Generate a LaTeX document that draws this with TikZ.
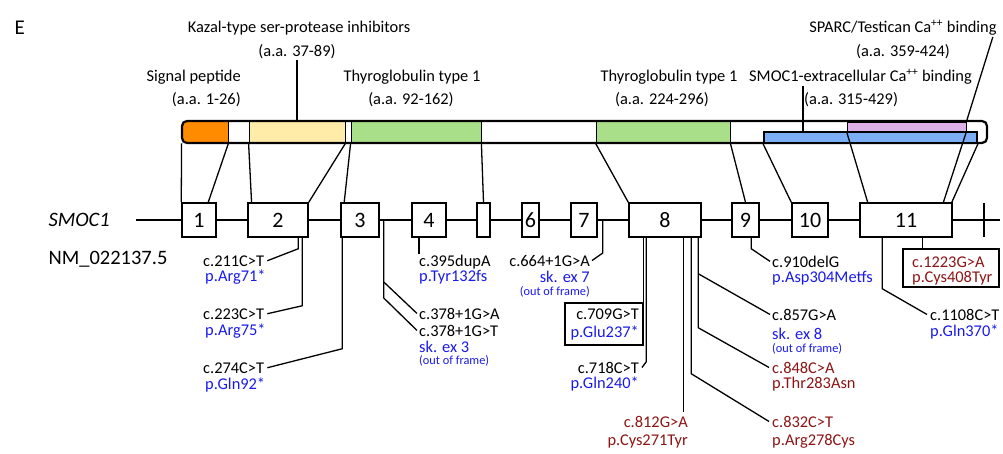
\documentclass[tikz,border=0pt]{standalone}
\usepackage{fontspec}
\setmainfont{Carlito}
\usetikzlibrary{calc}
\definecolor{mutblue}{RGB}{25,25,235}
\definecolor{mutred}{RGB}{140,20,20}
\definecolor{sigorange}{RGB}{255,140,0}
\definecolor{kazalyel}{RGB}{255,236,168}
\definecolor{thygreen}{RGB}{170,223,138}
\definecolor{sparcpink}{RGB}{221,177,232}
\definecolor{cablue}{RGB}{123,174,245}
\begin{document}
\begin{tikzpicture}[x=1pt,y=-1pt,
  exon/.style={draw, line width=1.5pt, fill=white, minimum height=34pt, inner sep=0pt,
    font=\fontsize{22}{22}\selectfont},
  seg/.style={draw, line width=0.8pt, minimum height=22pt, inner sep=0pt},
  conn/.style={line width=1.3pt},
  toplbl/.style={inner sep=1pt, font=\fontsize{16.4}{18}\selectfont},
  lbl/.style={inner sep=0pt, font=\fontsize{16.4}{18}\selectfont},
  blbl/.style={lbl, text=mutblue},
  rlbl/.style={lbl, text=mutred},
  oof/.style={inner sep=0pt, font=\fontsize{12.3}{13}\selectfont, text=mutblue},
  mbox/.style={draw, line width=1.3pt, inner sep=0pt}
]
\useasboundingbox (0,0) rectangle (1003,454);

% panel letter and gene labels
\node[anchor=base west, font=\fontsize{21}{21}\selectfont] (panel) at (11,35) {E};
\node[anchor=base west, font=\fontsize{20.5}{22}\selectfont\itshape] (gene) at (45,227) {SMOC1};
\node[anchor=base west, font=\fontsize{20.5}{22}\selectfont] (tx) at (45,264) {NM\_022137.5};

% domain labels
\node[toplbl, anchor=base] (kazt) at (299,33) {Kazal-type ser-protease inhibitors};
\node[toplbl, anchor=base] (kaza) at (297,57) {(a.a. 37-89)};
\node[toplbl, anchor=base east] (sigt) at (242,82) {Signal peptide};
\node[toplbl, anchor=base east] (siga) at (242,105) {(a.a. 1-26)};
\node[toplbl, anchor=base] (thy1t) at (412,82) {Thyroglobulin type 1};
\node[toplbl, anchor=base] (thy1a) at (411,105) {(a.a. 92-162)};
\node[toplbl, anchor=base] (thy2t) at (669,82) {Thyroglobulin type 1};
\node[toplbl, anchor=base] (thy2a) at (662,105) {(a.a. 224-296)};
\node[toplbl, anchor=base west] (smxt) at (748,82) {SMOC1-extracellular Ca\textsuperscript{++} binding};
\node[toplbl, anchor=base west] (smxa) at (803,105) {(a.a. 315-429)};
\node[toplbl, anchor=base] (sparct) at (903,33) {SPARC/Testican Ca\textsuperscript{++} binding};
\node[toplbl, anchor=base] (sparca) at (903,57) {(a.a. 359-424)};

% protein bar with domains
\begin{scope}
  \clip[rounded corners=5pt] (182,121) rectangle (987,143);
  \node[seg, fill=sigorange, minimum width=46pt] (sig) at (205,132) {};
  \node[seg, fill=kazalyel, minimum width=96pt] (kaz) at (297,132) {};
  \node[seg, fill=thygreen, minimum width=130pt] (thy1) at (416,132) {};
  \node[seg, fill=thygreen, minimum width=134pt] (thy2) at (663,132) {};
\end{scope}
\node[draw, line width=2.2pt, rounded corners=5pt, minimum width=805pt, minimum height=22pt,
  inner sep=0pt] (prot) at (584.5,132) {};
\node[draw, line width=0.9pt, fill=sparcpink, minimum width=119pt, minimum height=9pt,
  inner sep=0pt] (pink) at (906.5,126.5) {};
\node[draw, line width=1.8pt, fill=cablue, minimum width=213pt, minimum height=11pt,
  inner sep=0pt] (cabl) at (870.5,137.5) {};

% label leaders to the protein bar
\draw[conn] (kaza.south) -- (kaz.north);
\draw[conn] (smxa.west |- smxt.south) -- (smxa.west |- cabl.north);
\draw[conn] ([xshift=-5pt]sparct.south east) -- (pink.north east);

% gene backbone
\coordinate (bbL) at (136,220);
\coordinate (bbR) at (1000,220);
\draw[line width=1.8pt] (bbL) -- (bbR);
\draw[line width=2.5pt] (984,203) coordinate (endT) -- (984,237) coordinate (endB);

% exons
\node[exon, minimum width=34pt] (e1) at (199,220) {1};
\node[exon, minimum width=60pt] (e2) at (278,220) {2};
\node[exon, minimum width=38pt] (e3) at (360,220) {3};
\node[exon, minimum width=34pt] (e4) at (429,220) {4};
\node[exon, minimum width=13pt] (e5) at (483.5,220) {};
\node[exon, minimum width=17pt] (e6) at (530.5,220) {6};
\node[exon, minimum width=26pt] (e7) at (584,220) {7};
\node[exon, minimum width=72pt] (e8) at (665,220) {8};
\node[exon, minimum width=27pt] (e9) at (745.5,220) {9};
\node[exon, minimum width=36pt] (e10) at (810,220) {10};
\node[exon, minimum width=92pt] (e11) at (906,220) {11};

% domain boundaries mapped onto exons
\draw[conn] (sig.south west) -- (e1.north west);
\draw[conn] (sig.south east) -- ($(e1.north west)!0.76!(e1.north east)$);
\draw[conn] (kaz.south west) -- ($(e2.north west)!0.07!(e2.north east)$);
\draw[conn] (kaz.south east) -- (e2.north east);
\draw[conn] (thy1.south west) -- ($(e3.north west)!0.1!(e3.north east)$);
\draw[conn] (thy1.south east) -- (e5.north);
\draw[conn] (thy2.south west) -- (e8.north west);
\draw[conn] (thy2.south east) -- (e9.north);
\draw[conn] (cabl.south west) -- (e10.north west);
\draw[conn] (pink.south west) -- ($(e11.north west)!0.09!(e11.north east)$);
\draw[conn] (pink.south east) -- ($(e11.north west)!0.9!(e11.north east)$);
\draw[conn] (cabl.south east) -- ($(e11.north west)!0.99!(e11.north east)$);

% variant labels
\node[lbl, anchor=base west] (m211) at (203,266) {c.211C>T};
\node[blbl, anchor=base west] (p211) at (205,281) {p.Arg71*};
\node[lbl, anchor=base west] (m223) at (203,319) {c.223C>T};
\node[blbl, anchor=base west] (p223) at (205,335) {p.Arg75*};
\node[lbl, anchor=base west] (m274) at (203,373) {c.274C>T};
\node[blbl, anchor=base west] (p274) at (205,389) {p.Gln92*};

\node[lbl, anchor=base west] (m395) at (419,266) {c.395dupA};
\node[blbl, anchor=base west] (p395) at (419,281) {p.Tyr132fs};

\node[lbl, anchor=base west] (m378a) at (419,319) {c.378+1G>A};
\node[lbl, anchor=base west] (m378t) at (419,336) {c.378+1G>T};
\node[blbl, anchor=base west] (s378) at (419,352) {sk. ex 3};
\node[oof, anchor=base west] (o378) at (419,364) {(out of frame)};

\node[lbl, anchor=base east] (m664) at (590,266) {c.664+1G>A};
\node[blbl, anchor=base east] (s664) at (590,282) {sk. ex 7};
\node[oof, anchor=base east] (o664) at (590,295) {(out of frame)};

\node[mbox, minimum width=78pt, minimum height=42pt] (b709) at (604,324) {};
\node[lbl, anchor=base east] (m709) at (639,319) {c.709G>T};
\node[blbl, anchor=base east] (p709) at (639,337) {p.Glu237*};

\node[lbl, anchor=base east] (m718) at (639,373) {c.718C>T};
\node[blbl, anchor=base east] (p718) at (639,388) {p.Gln240*};

\node[rlbl, anchor=base east] (m812) at (688,427) {c.812G>A};
\node[rlbl, anchor=base east] (p812) at (688,445) {p.Cys271Tyr};
\node[rlbl, anchor=base west] (m832) at (772,427) {c.832C>T};
\node[rlbl, anchor=base west] (p832) at (772,445) {p.Arg278Cys};
\node[rlbl, anchor=base west] (m848) at (772,373) {c.848C>A};
\node[rlbl, anchor=base west] (p848) at (772,388) {p.Thr283Asn};
\node[lbl, anchor=base west] (m857) at (772,320) {c.857G>A};
\node[blbl, anchor=base west] (s857) at (772,339) {sk. ex 8};
\node[oof, anchor=base west] (o857) at (772,352) {(out of frame)};

\node[lbl, anchor=base west] (m910) at (772,267) {c.910delG};
\node[blbl, anchor=base west] (p910) at (772,282) {p.Asp304Metfs};

\node[mbox, minimum width=96pt, minimum height=38pt] (b1223) at (951,268) {};
\node[rlbl, anchor=base west] (m1223) at (912,267) {c.1223G>A};
\node[rlbl, anchor=base west] (p1223) at (912,282) {p.Cys408Tyr};

\node[lbl, anchor=base west] (m1108) at (930,320) {c.1108C>T};
\node[blbl, anchor=base west] (p1108) at (930,336) {p.Gln370*};

% variant leaders
\draw[conn] (e2.south west) ++(51,0) -- ++(0,11) -- ([xshift=3pt]m211.east);
\draw[conn] (e2.south west) ++(55,0) -- ++(0,68) -- ([xshift=3pt]m223.east);
\draw[conn] (e3.south west) ++(2,0) -- ++(0,111) -- ([xshift=3pt]m274.east);
\draw[conn] (e3.east) ++(4,0) -- ++(0,78) -- ([xshift=-2pt]m378t.west);
\draw[conn] (e3.east) ++(4,62) -- ([xshift=-2pt]m378a.west);
\draw[conn] (m395.north west) -- (m395.north west |- e4.south);
\draw[conn] (e7.east) ++(5,0) -- ++(0,33) -- ([xshift=2pt]m664.east);
\draw[conn] (b709.north east) -- (b709.north east |- e8.south);
\draw[conn] (e8.south west) ++(18,0) -- ++(0,124) -- ([xshift=3pt]m718.east);
\draw[conn] (e8.south west) ++(55,0) coordinate (t812) -- ([yshift=4pt]t812 |- m812.north);
\draw[conn] (e8.south west) ++(63,0) -- ++(0,136) -- ([xshift=-3pt]m832.west);
\draw[conn] (e8.south west) ++(70,0) -- ++(0,90) -- ([xshift=-3pt]m848.west);
\draw[conn] (e8.south west) ++(70,36) -- ([xshift=-2pt]m857.west);
\draw[conn] (e9.south west) ++(20,0) -- ++(0,11) -- ([xshift=-2pt]m910.west);
\draw[conn] (e11.south west) ++(63,0) coordinate (t1223) -- (t1223 |- b1223.north);
\draw[conn] (e11.south west) ++(23,0) -- ++(0,51) -- ([xshift=-3pt]m1108.west);
\end{tikzpicture}
\end{document}
